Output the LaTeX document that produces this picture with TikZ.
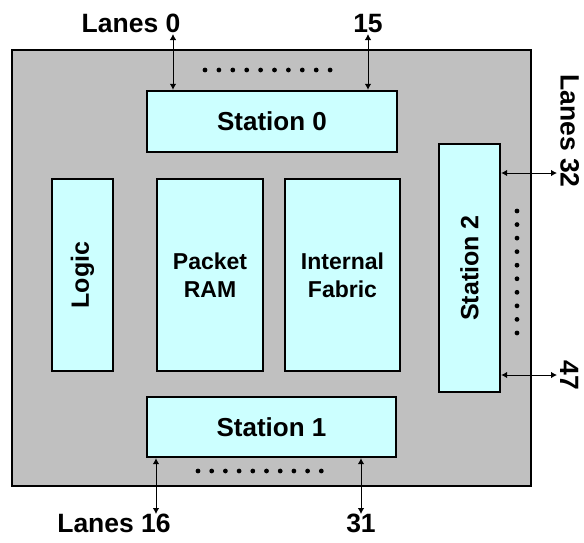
\documentclass[tikz,border=0pt]{standalone}
\usepackage{fontspec}
\setmainfont{Liberation Sans}
\usetikzlibrary{arrows.meta}
\definecolor{chipgray}{HTML}{C0C0C0}
\definecolor{boxcyan}{HTML}{CCFFFF}
\tikzset{
  chip/.style={draw=black, line width=2.6pt, fill=chipgray},
  unit/.style={draw=black, line width=2.3pt, fill=boxcyan, inner sep=0pt, font=\bfseries\fontsize{#1}{28}\selectfont, align=center},
  unit/.default=26,
  lane/.style={line width=1pt, {Latex[length=6pt,width=6.5pt]}-{Latex[length=6pt,width=6.5pt]}},
  lbl/.style={inner sep=1pt, font=\bfseries\fontsize{26.5}{28}\selectfont},
  dot/.style={fill=black, draw=none}
}
\begin{document}
\begin{tikzpicture}[x=1pt, y=-1pt]
\useasboundingbox (0,0) rectangle (584,542);
% chip outline
\path[chip] (12,50) rectangle (531,486);
% units
\node[unit, minimum width=250pt, minimum height=61pt] (s0) at (272,121.5) {Station 0};
\node[unit, minimum width=249pt, minimum height=60pt] (s1) at (271.5,427) {Station 1};
\node[unit=25, minimum width=61pt, minimum height=248pt] (s2) at (469.5,268) {};
\node[rotate=90, font=\bfseries\fontsize{25}{25}\selectfont, inner sep=0pt] (s2t) at (s2.center) {Station 2};
\node[unit=25, minimum width=61pt, minimum height=192pt] (lg) at (82.5,275) {};
\node[rotate=90, font=\bfseries\fontsize{25}{25}\selectfont, inner sep=0pt] (lgt) at (lg.center) {Logic};
\node[unit=23, minimum width=106pt, minimum height=192pt] (pr) at (210,275) {Packet\\RAM};
\node[unit=23, minimum width=115pt, minimum height=192pt] (fb) at (342.5,275) {Internal\\Fabric};
% free ends of lanes
\coordinate (e0) at (173,34);
\coordinate (e15) at (368,34);
\coordinate (e16) at (156,514);
\coordinate (e31) at (361,514);
\coordinate (e32) at (557,173);
\coordinate (e47) at (557,375);
% lanes
\draw[lane] (e0 |- s0.north) -- (e0);
\draw[lane] (e15 |- s0.north) -- (e15);
\draw[lane] (e16 |- s1.south) -- (e16);
\draw[lane] (e31 |- s1.south) -- (e31);
\draw[lane] (s2.east |- e32) -- (e32);
\draw[lane] (s2.east |- e47) -- (e47);
% labels
\node[lbl, anchor=south] (l0) at (e0) {Lanes 0\hphantom{Lanes\ }};
\node[lbl, anchor=south] (l15) at (e15) {15};
\node[lbl, anchor=north] (l16) at ([yshift=1pt]e16) {Lanes 16\hphantom{Lanes\ }};
\node[lbl, anchor=north] (l31) at ([yshift=1pt]e31) {31};
\node[lbl, anchor=south, rotate=-90] (l32) at ([xshift=2pt]e32) {Lanes 32\hphantom{Lanes\ }};
\node[lbl, anchor=south, rotate=-90] (l47) at ([xshift=2pt]e47) {47};
% dots
\foreach \i in {0,...,9} {
  \fill[dot] (205+\i*13.9,70) circle (2.4pt);
  \fill[dot] (198+\i*13.7,471) circle (2.4pt);
  \fill[dot] (517,211+\i*13.55) circle (2.4pt);
}
\end{tikzpicture}
\end{document}
